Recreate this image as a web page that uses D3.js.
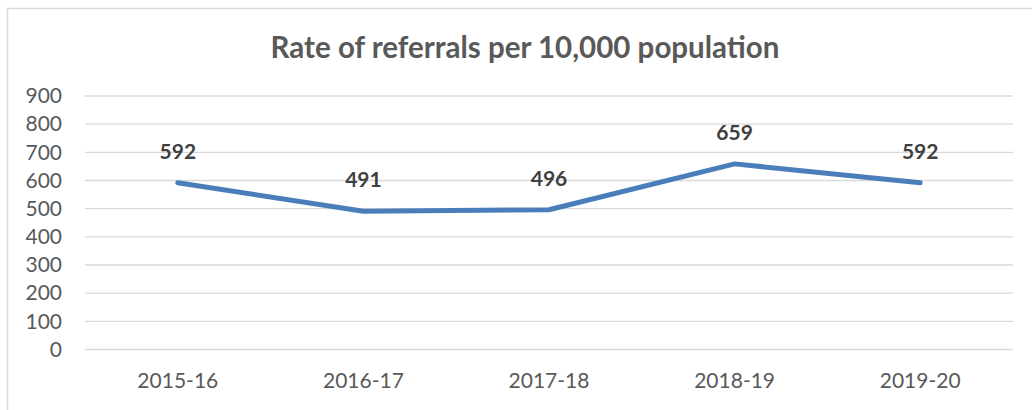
<!DOCTYPE html>
<html>
<head>
<meta charset="utf-8">
<script src="https://cdn.jsdelivr.net/npm/d3@7"></script>
<style>
  html, body { margin: 0; padding: 0; background: #fff; }
  svg { display: block; }
</style>
</head>
<body>
<svg id="chart" width="1032" height="410"></svg>
<script>
// Referral rate per 10,000 population by financial year
const categories = ["2015-16", "2016-17", "2017-18", "2018-19", "2019-20"];
const rates = [592, 491, 496, 659, 592];
const yTicks = [0, 100, 200, 300, 400, 500, 600, 700, 800, 900];
const chartTitle = "Rate of referrals per 10,000 population";

const svg = d3.select("#chart");
const font = "Lato, 'Open Sans', sans-serif";

// Chart frame (top and left edges visible)
svg.append("rect")
  .attr("x", 7.5).attr("y", 8.5)
  .attr("width", 1040).attr("height", 420)
  .attr("fill", "none")
  .attr("stroke", "#d9d9d9")
  .attr("stroke-width", 1.5);

const plot = { left: 85, right: 1013, top: 96, bottom: 349.5 };

const x = d3.scaleBand().domain(categories).range([plot.left, plot.right]);
const y = d3.scaleLinear().domain([0, 900]).range([plot.bottom, plot.top]);
const cx = d => x(d) + x.bandwidth() / 2;

// Title
svg.append("text")
  .attr("x", 525).attr("y", 58)
  .attr("text-anchor", "middle")
  .attr("font-family", font)
  .attr("font-weight", "bold")
  .attr("font-size", 29.5)
  .attr("fill", "#595959")
  .text(chartTitle);

// Horizontal gridlines
svg.append("g")
  .selectAll("line")
  .data(yTicks)
  .join("line")
  .attr("x1", plot.left).attr("x2", plot.right)
  .attr("y1", d => y(d)).attr("y2", d => y(d))
  .attr("stroke", "#d9d9d9")
  .attr("stroke-width", 1.3);

// Y axis labels
const yAxis = d3.axisLeft(y).tickValues(yTicks).tickSize(0).tickPadding(0);
svg.append("g")
  .attr("transform", "translate(62,0)")
  .call(yAxis)
  .call(g => g.select(".domain").remove())
  .call(g => g.selectAll("text")
    .attr("font-family", font)
    .attr("font-size", 21)
    .attr("fill", "#595959"));

// X axis labels
const xAxis = d3.axisBottom(x).tickSize(0).tickPadding(0);
svg.append("g")
  .attr("transform", "translate(0,373)")
  .call(xAxis)
  .call(g => g.select(".domain").remove())
  .call(g => g.selectAll("text")
    .attr("dy", "0.72em")
    .attr("font-family", font)
    .attr("font-size", 21)
    .attr("fill", "#595959"));

// Series line
const line = d3.line()
  .x((d, i) => cx(categories[i]))
  .y(d => y(d));

svg.append("path")
  .datum(rates)
  .attr("d", line)
  .attr("fill", "none")
  .attr("stroke", "#4a7ebb")
  .attr("stroke-width", 5)
  .attr("stroke-linejoin", "round")
  .attr("stroke-linecap", "round");

// Data labels
svg.append("g")
  .selectAll("text")
  .data(rates)
  .join("text")
  .attr("x", (d, i) => cx(categories[i]))
  .attr("y", d => y(d) - 24)
  .attr("text-anchor", "middle")
  .attr("font-family", font)
  .attr("font-weight", "bold")
  .attr("font-size", 21)
  .attr("fill", "#404040")
  .text(d => d);
</script>
</body>
</html>
